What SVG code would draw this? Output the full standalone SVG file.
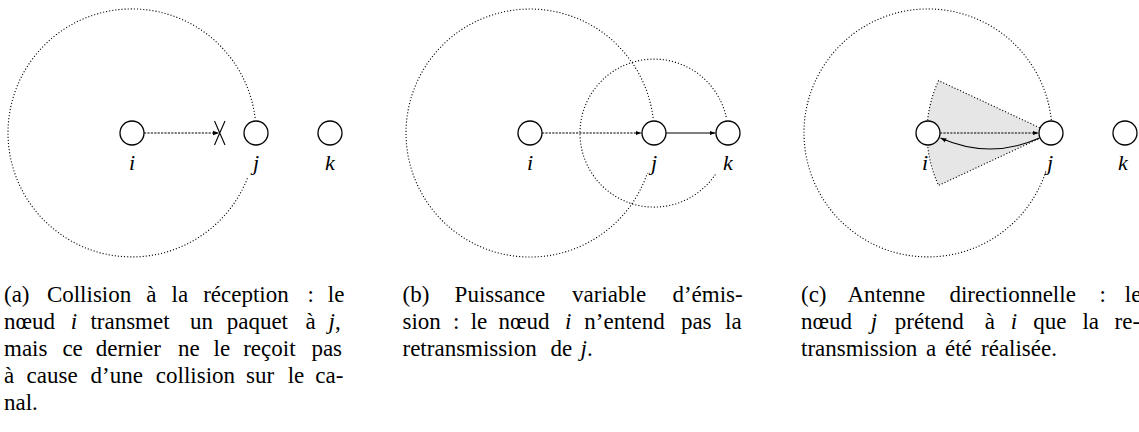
<svg xmlns="http://www.w3.org/2000/svg" width="1139" height="432" viewBox="0 0 1139 432">
<style>
.range{fill:none;stroke:#000;stroke-width:1.1;stroke-dasharray:1.1 2}
.wedge{fill:#e6e6e6;stroke:#000;stroke-width:1.1;stroke-dasharray:1.1 2}
.node circle{fill:#fff;stroke:#000;stroke-width:1.3}
.lbl{font-family:"Liberation Serif",serif;font-style:italic;font-size:22px;text-anchor:middle;fill:#000}
.cap{font-family:"Liberation Serif",serif;font-size:23px;fill:#000}
.m{font-style:italic}
.dash{fill:none;stroke:#000;stroke-width:1.1;stroke-dasharray:2.2 1.2;marker-end:url(#ah)}
.solid{fill:none;stroke:#000;stroke-width:1.1;marker-end:url(#ah)}
.cross{fill:none;stroke:#000;stroke-width:1.1}
</style>
<defs>
<marker id="ah" markerUnits="userSpaceOnUse" markerWidth="8" markerHeight="6" refX="6" refY="3" orient="auto" viewBox="0 0 8 6"><path d="M0,0.8 L6,3 L0,5.2 z" fill="#000" stroke="none"/></marker>
</defs>
<g id="ranges">
<path class="range" d="M 255.1 118 A 124 124 0 1 0 247.9 177"/>
<path class="range" d="M 653.1 118 A 124 124 0 1 0 647.4 173"/>
<path class="range" d="M 726.2 117 A 74 74 0 1 0 716.3 173"/>
<path class="range" d="M 1051.3 120 A 124 124 0 1 0 1046.3 170"/>
<path class="wedge" d="M 1051 133 L 938.6 80.6 A 124 124 0 0 0 938.6 185.4 Z"/>
</g>
<g id="connectors">
<path class="dash" d="M 144 133 L 219 133"/>
<path class="cross" d="M 214.5 121 L 225 145 M 225 121 L 214.5 145"/>
<path class="dash" d="M 542 133 L 641.5 133"/>
<path class="solid" d="M 666 133 L 715.5 133"/>
<path class="dash" d="M 940 133 L 1038.5 133"/>
<path class="solid" d="M 1039.5 138 Q 990 160 940.5 138"/>
</g>
<g id="a-i" class="node"><circle cx="132" cy="133" r="12"/><text class="lbl" x="132" y="170">i</text></g>
<g id="a-j" class="node"><circle cx="256" cy="133" r="12"/><text class="lbl" x="256" y="170">j</text></g>
<g id="a-k" class="node"><circle cx="330" cy="133" r="12"/><text class="lbl" x="330" y="170">k</text></g>
<g id="b-i" class="node"><circle cx="530" cy="133" r="12"/><text class="lbl" x="530" y="170">i</text></g>
<g id="b-j" class="node"><circle cx="654" cy="133" r="12"/><text class="lbl" x="654" y="170">j</text></g>
<g id="b-k" class="node"><circle cx="728" cy="133" r="12"/><text class="lbl" x="728" y="170">k</text></g>
<g id="c-i" class="node"><circle cx="928" cy="133" r="12"/><text class="lbl" x="925" y="170">i</text></g>
<g id="c-j" class="node"><circle cx="1051" cy="133" r="12"/><text class="lbl" x="1050" y="170">j</text></g>
<g id="c-k" class="node"><circle cx="1125" cy="133" r="12"/><text class="lbl" x="1123" y="170">k</text></g>
<g id="caption-a" class="cap">
<text y="302"><tspan x="4">(a)</tspan><tspan x="46.9">Collision</tspan><tspan x="146.2">à</tspan><tspan x="171.5">la</tspan><tspan x="203.2">réception</tspan><tspan x="307.4">:</tspan><tspan x="327.8">le</tspan></text>
<text y="329"><tspan x="4">nœud</tspan><tspan x="70.8" class="m">i</tspan><tspan x="90.4">transmet</tspan><tspan x="189.9">un</tspan><tspan x="226.7">paquet</tspan><tspan x="305.4">à</tspan><tspan x="328.5" class="m">j</tspan><tspan>,</tspan></text>
<text y="356"><tspan x="4">mais</tspan><tspan x="62.4">ce</tspan><tspan x="95.7">dernier</tspan><tspan x="177.9">ne</tspan><tspan x="213.6">le</tspan><tspan x="243.2">reçoit</tspan><tspan x="311.4">pas</tspan></text>
<text y="383"><tspan x="4">à</tspan><tspan x="26.6">cause</tspan><tspan x="90.6">d’une</tspan><tspan x="155.8">collision</tspan><tspan x="246.1">sur</tspan><tspan x="287.7">le</tspan><tspan x="315.3">ca-</tspan></text>
<text y="410"><tspan x="4">nal.</tspan></text>
</g>
<g id="caption-b" class="cap">
<text y="302"><tspan x="402.5">(b)</tspan><tspan x="454.6">Puissance</tspan><tspan x="572.1">variable</tspan><tspan x="672.4">d’émis-</tspan></text>
<text y="329"><tspan x="402.5">sion</tspan><tspan x="452.9">:</tspan><tspan x="470.7">le</tspan><tspan x="498.5">nœud</tspan><tspan x="565.1" class="m">i</tspan><tspan x="584.3">n’entend</tspan><tspan x="680.9">pas</tspan><tspan x="725">la</tspan></text>
<text y="356"><tspan x="402.5">retransmission</tspan><tspan x="550.5">de</tspan><tspan x="580.5" class="m">j</tspan><tspan>.</tspan></text>
</g>
<g id="caption-c" class="cap">
<text y="302"><tspan x="801">(c)</tspan><tspan x="847.4">Antenne</tspan><tspan x="949.4">directionnelle</tspan><tspan x="1099.6">:</tspan><tspan x="1124.8">le</tspan></text>
<text y="329"><tspan x="801">nœud</tspan><tspan x="870.8" class="m">j</tspan><tspan x="894.8">prétend</tspan><tspan x="984.7">à</tspan><tspan x="1010.7" class="m">i</tspan><tspan x="1033.2">que</tspan><tspan x="1082.4">la</tspan><tspan x="1114.6">re-</tspan></text>
<text y="356"><tspan x="801">transmission</tspan><tspan x="926">a</tspan><tspan x="945">été</tspan><tspan x="981">réalisée.</tspan></text>
</g>
</svg>
